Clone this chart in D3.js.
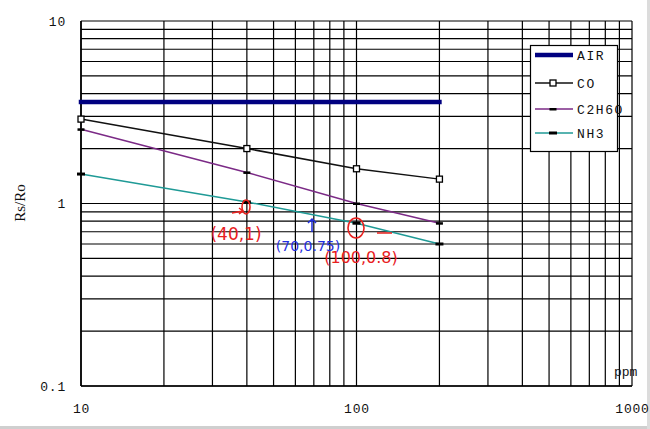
<!DOCTYPE html>
<html>
<head>
<meta charset="utf-8">
<script src="https://cdn.jsdelivr.net/npm/d3@7"></script>
<style>
  html, body { margin: 0; padding: 0; background: #fff; }
  svg { display: block; }
</style>
</head>
<body>
<svg id="chart" width="650" height="429"></svg>
<script>
// ---- data ----
const ppm = [10, 40, 100, 200];
const airValues = [3.6, 3.6, 3.6, 3.6];
const coValues = [2.9, 2.0, 1.55, 1.36];
const c2h6oValues = [2.55, 1.48, 1.0, 0.78];
const nh3Values = [1.45, 1.02, 0.78, 0.6];
const seriesNames = ["AIR", "CO", "C2H6O", "NH3"];
const xTickValues = [10, 100, 1000];
const xTickLabels = ["10", "100", "1000"];
const yTickValues = [0.1, 1, 10];
const yTickLabels = ["0.1", "1", "10"];
const annotationTexts = ["(40,1)", "(70,0.75)", "(100,0.8)"];

// ---- drawing ----
const svg = d3.select("#chart");
const x = d3.scaleLog().domain([10, 1000]).range([81, 632]);
const y = d3.scaleLog().domain([0.1, 10]).range([386, 21]);
const mono = "'Liberation Mono', 'DejaVu Sans Mono', monospace";

svg.append("rect").attr("x", 0).attr("y", 0).attr("width", 650).attr("height", 429).attr("fill", "#fff");
// window edges
svg.append("rect").attr("x", 0).attr("y", 426).attr("width", 650).attr("height", 3).attr("fill", "#cfcfcf");
svg.append("rect").attr("x", 647).attr("y", 0).attr("width", 3).attr("height", 429).attr("fill", "#dcdcdc");

const grid = svg.append("g");
grid.selectAll("line.v").data(x.ticks()).join("line")
  .attr("x1", d => x(d)).attr("x2", d => x(d))
  .attr("y1", y(10)).attr("y2", y(0.1))
  .attr("stroke", "#000").attr("stroke-width", 1.2);
grid.selectAll("line.h").data(y.ticks()).join("line")
  .attr("x1", x(10)).attr("x2", x(1000))
  .attr("y1", d => y(d)).attr("y2", d => y(d))
  .attr("stroke", "#000").attr("stroke-width", 1.2);
// left axis line a bit stronger
svg.append("line").attr("x1", x(10)).attr("x2", x(10)).attr("y1", y(10)).attr("y2", y(0.1))
  .attr("stroke", "#000").attr("stroke-width", 1.6);
svg.append("line").attr("x1", x(10)).attr("x2", x(1000)).attr("y1", y(0.1)).attr("y2", y(0.1))
  .attr("stroke", "#000").attr("stroke-width", 1.6);

// axes (labels only)
const xAxis = svg.append("g").attr("transform", `translate(0,${y(0.1)})`)
  .call(d3.axisBottom(x).tickValues(xTickValues).tickFormat((d, i) => xTickLabels[i]).tickSize(0).tickPadding(18));
const yAxis = svg.append("g").attr("transform", `translate(${x(10)},0)`)
  .call(d3.axisLeft(y).tickValues(yTickValues).tickFormat((d, i) => yTickLabels[i]).tickSize(0).tickPadding(15));
[xAxis, yAxis].forEach(a => {
  a.select(".domain").remove();
  a.selectAll("text").attr("font-family", mono).attr("font-size", 13).attr("fill", "#111")
    .attr("letter-spacing", "0.8px");
});

// axis titles
svg.append("text").attr("transform", "translate(25,203) rotate(-90)")
  .attr("text-anchor", "middle").attr("font-family", "'Liberation Serif', serif")
  .attr("font-size", 15).attr("fill", "#111").text("Rs/Ro");
svg.append("text").attr("x", 614).attr("y", 376)
  .attr("font-family", mono).attr("font-size", 13).attr("fill", "#111").text("ppm");

// series
const series = [
  { name: seriesNames[0], values: airValues, color: "#000080", width: 4.5, marker: "none" },
  { name: seriesNames[1], values: coValues, color: "#111", width: 1.5, marker: "square" },
  { name: seriesNames[2], values: c2h6oValues, color: "#7b2a86", width: 1.5, marker: "dash" },
  { name: seriesNames[3], values: nh3Values, color: "#1f9a96", width: 1.5, marker: "dash2" }
];
const line = d3.line().x(d => x(d[0])).y(d => y(d[1]));

series.forEach(s => {
  const pts = ppm.map((p, i) => [p, s.values[i]]);
  svg.append("path").datum(pts).attr("d", line)
    .attr("fill", "none").attr("stroke", s.color).attr("stroke-width", s.width)
    .attr("stroke-linecap", s.marker === "none" ? "square" : "butt");
  drawMarkers(svg, pts.map(p => [x(p[0]), y(p[1])]), s.marker);
});

function drawMarkers(g, pts, kind) {
  if (kind === "square") {
    g.selectAll(null).data(pts).join("rect")
      .attr("x", d => d[0] - 3).attr("y", d => d[1] - 3).attr("width", 6).attr("height", 6)
      .attr("fill", "#fff").attr("stroke", "#000").attr("stroke-width", 1.3);
  } else if (kind === "dash") {
    g.selectAll(null).data(pts).join("rect")
      .attr("x", d => d[0] - 3.5).attr("y", d => d[1] - 1).attr("width", 7).attr("height", 2.5)
      .attr("fill", "#000");
  } else if (kind === "dash2") {
    g.selectAll(null).data(pts).join("rect")
      .attr("x", d => d[0] - 4).attr("y", d => d[1] - 1.5).attr("width", 8).attr("height", 3)
      .attr("fill", "#000");
  }
}

// legend
const lg = svg.append("g");
lg.append("rect").attr("x", 530.5).attr("y", 45.5).attr("width", 87).attr("height", 106)
  .attr("fill", "#fff").attr("stroke", "#000").attr("stroke-width", 1.2);
const legendY = [55, 83, 109, 133];
series.forEach((s, i) => {
  const ly = legendY[i];
  lg.append("line").attr("x1", 535).attr("x2", 573).attr("y1", ly).attr("y2", ly)
    .attr("stroke", s.color).attr("stroke-width", s.width);
  drawMarkers(lg, [[553, ly]], s.marker);
  lg.append("text").attr("x", 577).attr("y", ly + 4.5)
    .attr("font-family", mono).attr("font-size", 13).attr("letter-spacing", "1.6px")
    .attr("fill", "#111").text(s.name);
});

// hand-written annotations
const ann = svg.append("g").attr("font-family", "'DejaVu Sans', sans-serif").attr("fill", "none");
ann.append("ellipse").attr("cx", 246).attr("cy", 207).attr("rx", 4).attr("ry", 7)
  .attr("stroke", "#e8201e").attr("stroke-width", 1.6);
ann.append("path").attr("d", "M232,213 L243,211 M239,208 L243,211 L239,214")
  .attr("stroke", "#e8201e").attr("stroke-width", 1.5);
ann.append("text").attr("x", 236).attr("y", 240).attr("text-anchor", "middle")
  .attr("font-size", 17).attr("fill", "#e8201e").text(annotationTexts[0]);
ann.append("path").attr("d", "M312,232 L312,219 M308,223 L312,219 L316,223")
  .attr("stroke", "#1f2ee0").attr("stroke-width", 1.5);
ann.append("text").attr("x", 308).attr("y", 251).attr("text-anchor", "middle")
  .attr("font-size", 14).attr("fill", "#1f2ee0").text(annotationTexts[1]);
ann.append("ellipse").attr("cx", 356).attr("cy", 228).attr("rx", 8).attr("ry", 10)
  .attr("stroke", "#e8201e").attr("stroke-width", 1.6);
ann.append("line").attr("x1", 377).attr("x2", 392).attr("y1", 233).attr("y2", 233)
  .attr("stroke", "#e8201e").attr("stroke-width", 1.5);
ann.append("text").attr("x", 361).attr("y", 263).attr("text-anchor", "middle")
  .attr("font-size", 16).attr("fill", "#e8201e").text(annotationTexts[2]);
</script>
</body>
</html>
